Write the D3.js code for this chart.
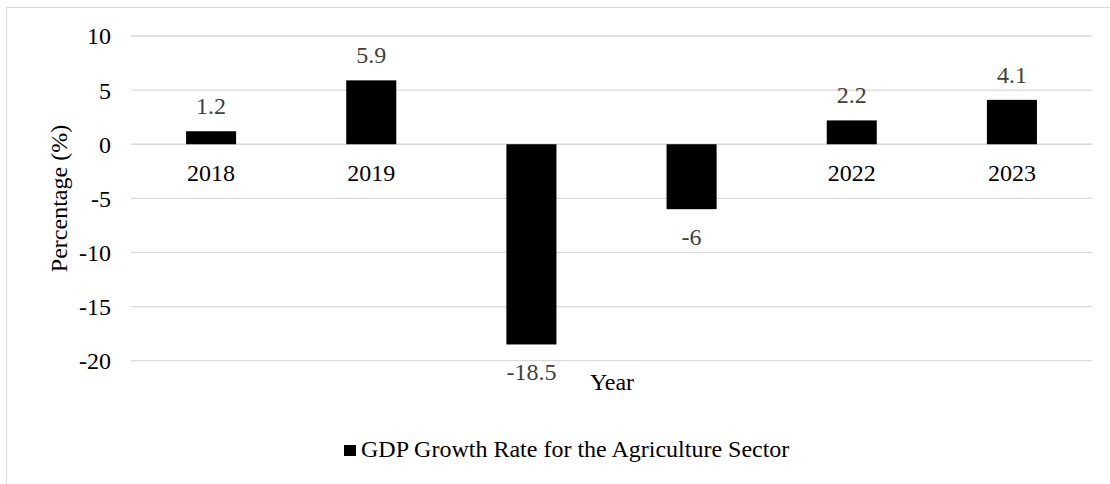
<!DOCTYPE html>
<html>
<head>
<meta charset="utf-8">
<script src="https://cdn.jsdelivr.net/npm/d3@7"></script>
<style>
  html, body { margin: 0; padding: 0; background: #fff; }
  svg { display: block; }
  svg text { font-family: 'Liberation Serif', Tinos, 'Times New Roman', 'DejaVu Serif', serif !important; }
</style>
</head>
<body>
<svg id="chart" width="1110" height="484"></svg>
<script>
const categories = ["2018", "2019", "2020", "2021", "2022", "2023"];
const values = [1.2, 5.9, -18.5, -6, 2.2, 4.1];
const yTicks = [10, 5, 0, -5, -10, -15, -20];
const seriesName = "GDP Growth Rate for the Agriculture Sector";

const FONT = "'Liberation Serif', Tinos, 'Times New Roman', 'DejaVu Serif', serif";
const FS = 24;
const svg = d3.select("#chart").style("font-family", FONT);
const W = 1110, H = 484;
const plot = { left: 131, right: 1092, top: 36, bottom: 360.7 };

// chart border (top + left visible)
svg.append("rect")
  .attr("x", 6.5).attr("y", 7.5)
  .attr("width", W + 10).attr("height", H + 10)
  .attr("fill", "#fff").attr("stroke", "#d9d9d9").attr("stroke-width", 1);

const x = d3.scaleBand()
  .domain(categories)
  .range([plot.left, plot.right])
  .paddingInner(0.6875)
  .paddingOuter(0.34375);

const y = d3.scaleLinear()
  .domain([-20, 10])
  .range([plot.bottom, plot.top]);

// gridlines
svg.append("g")
  .selectAll("line")
  .data(yTicks)
  .join("line")
  .attr("x1", plot.left).attr("x2", plot.right)
  .attr("y1", d => y(d)).attr("y2", d => y(d))
  .attr("stroke", "#d9d9d9").attr("stroke-width", 1.3);

// y tick labels
const yAxis = d3.axisLeft(y).tickValues(yTicks).tickSize(0).tickPadding(0).tickFormat(d3.format("d"));
const yg = svg.append("g").attr("transform", `translate(111,0)`).call(yAxis);
yg.attr("font-family", FONT).attr("font-size", FS);
yg.select(".domain").remove();
yg.selectAll("text")
  .style("font-family", FONT)
  .attr("font-size", FS).attr("fill", "#000")
  .attr("dy", "0.33em")
  .text(d => d < 0 ? "-" + Math.abs(d) : d);

function txt(sel) {
  return sel.style("font-family", FONT).attr("font-size", FS);
}

// category labels (drawn under bars, like the reference)
svg.append("g")
  .selectAll("text")
  .data(categories)
  .join("text")
  .call(txt)
  .attr("x", d => x(d) + x.bandwidth() / 2)
  .attr("y", y(0) + 37)
  .attr("text-anchor", "middle")
  .attr("fill", "#000")
  .text(d => d);

// bars
svg.append("g")
  .selectAll("rect")
  .data(values)
  .join("rect")
  .attr("x", (d, i) => x(categories[i]))
  .attr("width", x.bandwidth())
  .attr("y", d => y(Math.max(0, d)))
  .attr("height", d => Math.abs(y(d) - y(0)))
  .attr("fill", "#000");

// data labels
svg.append("g")
  .selectAll("text")
  .data(values)
  .join("text")
  .call(txt)
  .attr("x", (d, i) => x(categories[i]) + x.bandwidth() / 2)
  .attr("y", d => d >= 0 ? y(d) - 17 : y(d) + 36)
  .attr("text-anchor", "middle")
  .attr("fill", "#404040")
  .text(d => d < 0 ? "-" + Math.abs(d) : d);

// axis titles
svg.append("text")
  .call(txt)
  .attr("transform", `translate(67,198.5) rotate(-90)`)
  .attr("text-anchor", "middle")
  .attr("fill", "#000")
  .text("Percentage (%)");

svg.append("text")
  .call(txt)
  .attr("x", 612).attr("y", 390)
  .attr("text-anchor", "middle")
  .attr("fill", "#000")
  .text("Year");

// legend
const lg = svg.append("g");
lg.append("rect")
  .attr("x", 344).attr("y", 445).attr("width", 12).attr("height", 11)
  .attr("fill", "#000");
lg.append("text")
  .call(txt)
  .attr("x", 361).attr("y", 457)
  .attr("fill", "#000")
  .text(seriesName);
</script>
</body>
</html>
